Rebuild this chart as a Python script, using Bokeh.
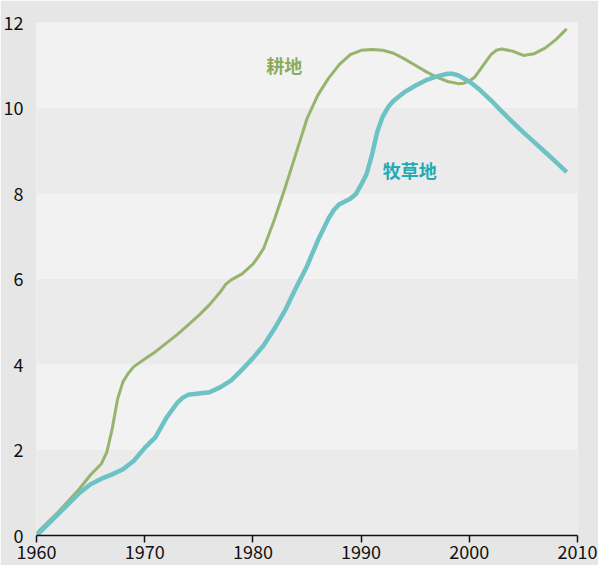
from bokeh.plotting import figure
from bokeh.models import ColumnDataSource, Range1d, FixedTicker, BoxAnnotation, Label
from bokeh.embed import file_html
from bokeh.resources import INLINE

crop_years = [1960, 1962, 1964, 1965, 1966, 1966.5, 1967, 1967.5, 1968, 1968.5,
              1969, 1970, 1971, 1972, 1973, 1974, 1975, 1976, 1977, 1977.5,
              1978, 1979, 1980, 1980.5, 1981, 1982, 1983, 1984, 1985, 1986,
              1987, 1988, 1989, 1990, 1991, 1992, 1993, 1994, 1995, 1996,
              1997, 1998, 1999, 1999.5, 2000, 2000.5, 2001, 2002, 2002.5, 2003,
              2004, 2005, 2006, 2007, 2008, 2009]
cropland = [0.05, 0.55, 1.1, 1.42, 1.68, 1.95, 2.5, 3.2, 3.6, 3.8,
            3.95, 4.13, 4.3, 4.5, 4.7, 4.92, 5.15, 5.4, 5.7, 5.88,
            5.98, 6.12, 6.35, 6.52, 6.72, 7.4, 8.15, 8.95, 9.75, 10.3,
            10.7, 11.02, 11.25, 11.35, 11.37, 11.35, 11.28, 11.15, 11.0, 10.85,
            10.72, 10.62, 10.57, 10.58, 10.63, 10.72, 10.9, 11.25, 11.35, 11.38,
            11.33, 11.23, 11.27, 11.4, 11.6, 11.85]

pasture_years = [1960, 1962, 1964, 1965, 1966, 1967, 1968, 1969, 1970, 1971,
                 1972, 1973, 1973.5, 1974, 1975, 1976, 1977, 1978, 1979, 1980,
                 1981, 1982, 1983, 1984, 1985, 1986, 1987, 1987.5, 1988, 1989,
                 1989.5, 1990, 1990.5, 1991, 1991.5, 1992, 1992.5, 1993, 1994, 1995,
                 1996, 1997, 1998, 1998.5, 1999, 2000, 2001, 2002, 2003, 2004,
                 2005, 2006, 2007, 2008, 2009]
pasture = [0.0, 0.5, 1.0, 1.2, 1.33, 1.43, 1.55, 1.75, 2.05, 2.3,
           2.75, 3.1, 3.22, 3.29, 3.32, 3.35, 3.47, 3.63, 3.88, 4.15,
           4.45, 4.84, 5.28, 5.8, 6.3, 6.9, 7.42, 7.62, 7.75, 7.88,
           7.98, 8.2, 8.45, 8.9, 9.45, 9.8, 10.02, 10.17, 10.37, 10.52,
           10.65, 10.74, 10.8, 10.8, 10.76, 10.62, 10.42, 10.18, 9.92, 9.67,
           9.43, 9.2, 8.97, 8.74, 8.5]

x_ticks = [1960, 1970, 1980, 1990, 2000, 2010]
y_ticks = [0, 2, 4, 6, 8, 10, 12]
label_crop = "耕地"
label_pasture = "牧草地"

FONT = "Noto Sans CJK JP"

p = figure(width=598, height=565, output_backend="svg", toolbar_location=None,
           x_range=Range1d(1960, 2010), y_range=Range1d(0, 12))
p.min_border_left = 32
p.min_border_right = 21
p.min_border_top = 22
p.min_border_bottom = 30
p.outline_line_color = None
p.background_fill_color = "#ebebeb"
p.border_fill_color = "#e6e6e6"
p.xgrid.visible = False
p.ygrid.visible = False

# alternating light bands
for i in range(len(y_ticks) - 1):
    if i % 2 == 1:
        p.add_layout(BoxAnnotation(bottom=y_ticks[i], top=y_ticks[i + 1],
                                   fill_color="#f2f2f2", fill_alpha=1,
                                   line_color=None, level="underlay"))

src_c = ColumnDataSource(dict(year=crop_years, value=cropland))
src_p = ColumnDataSource(dict(year=pasture_years, value=pasture))
p.line("year", "value", source=src_c, line_color="#97b46e", line_width=3,
       line_join="round")
p.line("year", "value", source=src_p, line_color="#6dc2c6", line_width=4.5,
       line_join="round")

p.add_layout(Label(x=1982.9, y=11.0, text=label_crop, text_color="#8aab5a",
                   text_font=FONT, text_font_size="18px", text_font_style="bold",
                   text_align="center", text_baseline="middle"))
p.add_layout(Label(x=1994.5, y=8.56, text=label_pasture, text_color="#22aab4",
                   text_font=FONT, text_font_size="18px", text_font_style="bold",
                   text_align="center", text_baseline="middle"))

xa = p.xaxis[0]
xa.ticker = FixedTicker(ticks=x_ticks)
xa.axis_line_color = "#111111"
xa.axis_line_width = 1.5
xa.major_tick_line_color = "#111111"
xa.major_tick_line_width = 1.5
xa.major_tick_out = 7
xa.major_tick_in = 0
xa.minor_tick_line_color = None
xa.major_label_text_font = FONT
xa.major_label_text_font_size = "18px"
xa.major_label_text_color = "#111111"
xa.major_label_standoff = 2

ya = p.yaxis[0]
ya.ticker = FixedTicker(ticks=y_ticks)
ya.axis_line_color = None
ya.major_tick_line_color = None
ya.minor_tick_line_color = None
ya.major_label_text_font = FONT
ya.major_label_text_font_size = "18px"
ya.major_label_text_color = "#111111"
ya.major_label_standoff = 7

open("out.html", "w").write(file_html(p, INLINE))
